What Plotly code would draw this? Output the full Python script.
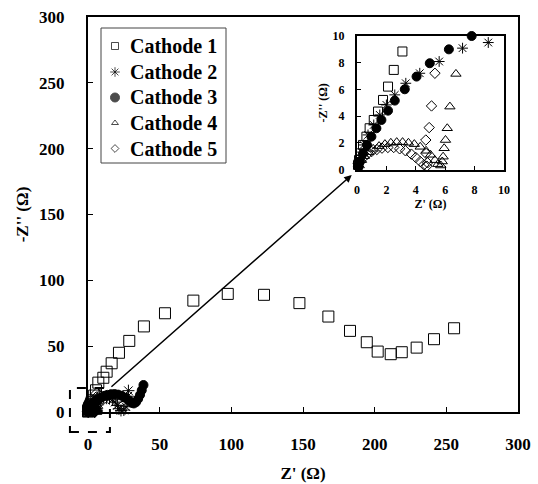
import plotly.graph_objects as go

# ---------------- data ----------------
names = ["Cathode 1", "Cathode 2", "Cathode 3", "Cathode 4", "Cathode 5"]

c1_x = [0.07, 0.14, 0.25, 0.41, 0.64, 0.86, 1.14, 1.43, 1.77, 2.11, 2.5, 3.09, 4.3, 5.6, 7.2, 10.7, 13.0, 16.5,
        21.6, 28.8, 39.0, 53.7, 73.5, 97.5, 122.8, 147.5, 167.7, 182.8, 194.5, 202.1, 211.2, 218.9,
        229.3, 241.4, 255.4]
c1_y = [0.34, 0.71, 1.21, 1.84, 2.46, 3.09, 3.71, 4.34, 5.21, 6.21, 7.46, 8.84, 12.5, 16.5, 22.3, 26.0, 30.6, 37.0,
        45.0, 54.0, 65.0, 75.0, 84.6, 89.7, 89.0, 82.7, 72.5, 61.6, 53.0, 45.9, 43.9, 45.4,
        48.9, 55.3, 63.6]

c2_x = [0.07, 0.23, 0.45, 0.75, 1.14, 1.55, 2.0, 2.57, 3.32, 4.27, 5.59, 7.18, 8.93, 11.0, 13.0, 15.0,
        17.0, 19.0, 20.5, 21.5, 23.0, 25.0, 26.5, 27.3, 27.8, 28.2]
c2_y = [0.46, 1.09, 1.84, 2.59, 3.34, 4.09, 4.84, 5.59, 6.46, 7.21, 8.09, 9.09, 9.51, 10.3, 10.5, 10.2,
        9.3, 7.5, 5.0, 2.5, 1.2, 1.5, 4.0, 8.0, 12.0, 16.2]

c3_x = [0.07, 0.18, 0.41, 0.68, 0.98, 1.32, 1.66, 2.11, 2.57, 3.25, 4.05, 4.95, 6.25, 7.8, 9.5, 11.5,
        13.5, 16.0, 18.5, 21.0, 23.5, 26.0, 28.5, 30.5, 32.0, 33.5, 35.0, 36.3, 37.5, 38.7]
c3_y = [0.21, 0.59, 1.21, 1.84, 2.46, 3.09, 3.71, 4.41, 5.16, 6.01, 6.96, 7.96, 9.0, 10.0, 11.2, 12.3,
        13.0, 13.5, 13.6, 13.2, 12.3, 10.8, 8.8, 7.0, 6.5, 7.5, 10.0, 13.0, 16.5, 20.5]

c4_x = [0.15, 0.3, 0.5, 0.8, 1.1, 1.5, 1.9, 2.3, 2.7, 3.1, 3.5, 3.9, 4.3, 4.7, 5.0, 5.3, 5.5, 5.7,
        5.8, 5.86, 5.93, 6.02, 6.14, 6.32, 6.73, 7.3, 8.3]
c4_y = [0.3, 0.7, 1.0, 1.3, 1.55, 1.75, 1.9, 2.0, 2.05, 2.05, 2.0, 1.9, 1.7, 1.4, 1.1, 0.7, 0.4, 0.3,
        0.6, 0.96, 1.59, 2.21, 3.09, 4.71, 7.16, 10.9, 13.5]

c5_x = [0.1, 0.25, 0.45, 0.7, 1.0, 1.35, 1.7, 2.1, 2.5, 2.9, 3.3, 3.7, 4.0, 4.3, 4.55, 4.75,
        4.8, 4.7, 4.68, 4.91, 5.07, 5.3, 5.7, 6.1]
c5_y = [0.25, 0.6, 0.9, 1.15, 1.35, 1.5, 1.6, 1.65, 1.65, 1.55, 1.4, 1.15, 0.9, 0.6, 0.35, 0.25,
        0.5, 1.2, 2.21, 3.14, 4.76, 7.21, 10.9, 14.0]

series_x = [c1_x, c2_x, c3_x, c4_x, c5_x]
series_y = [c1_y, c2_y, c3_y, c4_y, c5_y]

main_ticks = [0, 50, 100, 150, 200, 250, 300]
inset_ticks = [0, 2, 4, 6, 8, 10]

# ---------------- styles / layout constants ----------------
symbols = ["square-open", "asterisk-open", "circle", "triangle-up-open", "diamond-open"]
main_sizes = [11, 10, 9, 10, 9]
inset_sizes = [9, 9, 9, 9, 8]
legend_sizes = [7, 8, 9, 6, 6]
FONT = "Liberation Serif, Times New Roman, serif"

W, H = 538, 484
PL, PR, PT, PB = 88, 518, 17, 412     # main plot area in pixels
MAIN_RANGE = [0, 300]
INSET_RANGE = [0, 10]
INSET_PX = (357, 504, 36, 169.5)      # inset frame in pixels (x0, x1, ytop, ybottom)
# zoom box and arrow (data units of the main axes)
box_x0, box_x1, box_y0, box_y1 = -12.6, 15.3, -15.2, 18.2
arrow_tail = (15.3, 18.2)
arrow_head = (184, 180)
# hand-made legend (pixels)
LEG_BOX = (101, 226, 28, 163)
LEG_ROWS = [46, 72, 97.5, 123, 148.5]
LEG_MARK_X = 115
LEG_TEXT_X = 128


def px_x(p):
    return (p - PL) / (PR - PL)


def px_y(p):
    return (PB - p) / (PB - PT)


def data_to_paper(v):
    return (v - MAIN_RANGE[0]) / (MAIN_RANGE[1] - MAIN_RANGE[0])


fig = go.Figure()

for i in range(5):
    fig.add_trace(go.Scatter(
        x=series_x[i], y=series_y[i], mode="markers", showlegend=False, cliponaxis=False,
        marker=dict(symbol=symbols[i], size=main_sizes[i], color="black",
                    line=dict(color="black", width=1)),
        xaxis="x", yaxis="y"))

# inset: only the points that fall inside the inset window (markers may overlap the frame)
lim = INSET_RANGE[1] + 0.2
for i in range(5):
    pts = [(a, b) for a, b in zip(series_x[i], series_y[i]) if a <= lim and b <= lim]
    fig.add_trace(go.Scatter(
        x=[p[0] for p in pts], y=[p[1] for p in pts], mode="markers", showlegend=False,
        cliponaxis=False,
        marker=dict(symbol=symbols[i], size=inset_sizes[i], color="black",
                    line=dict(color="black", width=1)),
        xaxis="x2", yaxis="y2"))

# legend markers on an invisible pixel-unit overlay axis
fig.add_trace(go.Scatter(
    x=[LEG_MARK_X] * 5, y=LEG_ROWS, mode="markers", showlegend=False, cliponaxis=False,
    marker=dict(symbol=symbols, size=legend_sizes, color="black",
                line=dict(color="black", width=1)),
    xaxis="x3", yaxis="y3"))

axis_common = dict(showline=True, linecolor="black", mirror=True, ticks="inside",
                   tickcolor="black", showgrid=False, zeroline=False, automargin=False)

annotations = [dict(x=arrow_head[0], y=arrow_head[1], ax=arrow_tail[0], ay=arrow_tail[1],
                    xref="x", yref="y", axref="x", ayref="y", showarrow=True,
                    arrowhead=2, arrowsize=1, arrowwidth=1.5, arrowcolor="black", text="")]
for name, row in zip(names, LEG_ROWS):
    annotations.append(dict(x=px_x(LEG_TEXT_X), y=px_y(row), xref="paper", yref="paper",
                            xanchor="left", yanchor="middle", showarrow=False, text=name,
                            font=dict(size=20, weight="bold", family=FONT, color="black")))

fig.update_layout(
    width=W, height=H,
    margin=dict(l=PL, r=W - PR, t=PT, b=H - PB),
    paper_bgcolor="white", plot_bgcolor="white",
    font=dict(family=FONT, color="black"),
    showlegend=False,
    hovermode=False,
    xaxis=dict(**axis_common, range=MAIN_RANGE, tickvals=main_ticks, linewidth=2, ticklen=5,
               tickfont=dict(size=17, weight="bold"), ticklabelstandoff=16,
               title=dict(text="Z' (Ω)", font=dict(size=17, weight="bold"), standoff=14)),
    yaxis=dict(**axis_common, range=MAIN_RANGE, tickvals=main_ticks, linewidth=2, ticklen=5,
               tickfont=dict(size=17, weight="bold"), ticklabelstandoff=18,
               title=dict(text="-Z'' (Ω)", font=dict(size=17, weight="bold"), standoff=6)),
    xaxis2=dict(**axis_common, range=INSET_RANGE, tickvals=inset_ticks, linewidth=2, ticklen=4,
                domain=[px_x(INSET_PX[0]), px_x(INSET_PX[1])], anchor="y2",
                tickfont=dict(size=12, weight="bold"), ticklabelstandoff=8,
                title=dict(text="Z' (Ω)", font=dict(size=12, weight="bold"), standoff=3)),
    yaxis2=dict(**axis_common, range=INSET_RANGE, tickvals=inset_ticks, linewidth=2, ticklen=4,
                domain=[px_y(INSET_PX[3]), px_y(INSET_PX[2])], anchor="x2",
                tickfont=dict(size=12, weight="bold"), ticklabelstandoff=8,
                title=dict(text="-Z'' (Ω)", font=dict(size=12, weight="bold"), standoff=2)),
    xaxis3=dict(range=[PL, PR], domain=[0, 1], visible=False, overlaying="x", anchor="y3",
                fixedrange=True),
    yaxis3=dict(range=[PB, PT], domain=[0, 1], visible=False, overlaying="y", anchor="x3",
                fixedrange=True),
    shapes=[dict(type="rect", xref="paper", yref="paper",
                 x0=data_to_paper(box_x0), x1=data_to_paper(box_x1),
                 y0=data_to_paper(box_y0), y1=data_to_paper(box_y1),
                 line=dict(color="black", width=2, dash="dash")),
            dict(type="rect", xref="paper", yref="paper",
                 x0=px_x(LEG_BOX[0]), x1=px_x(LEG_BOX[1]),
                 y0=px_y(LEG_BOX[3]), y1=px_y(LEG_BOX[2]),
                 line=dict(color="#444", width=1), fillcolor="rgba(0,0,0,0)", layer="below")],
    annotations=annotations,
)

fig.write_html("out.html", config={"displayModeBar": False, "staticPlot": True},
               post_script="document.body.style.margin='0';")
